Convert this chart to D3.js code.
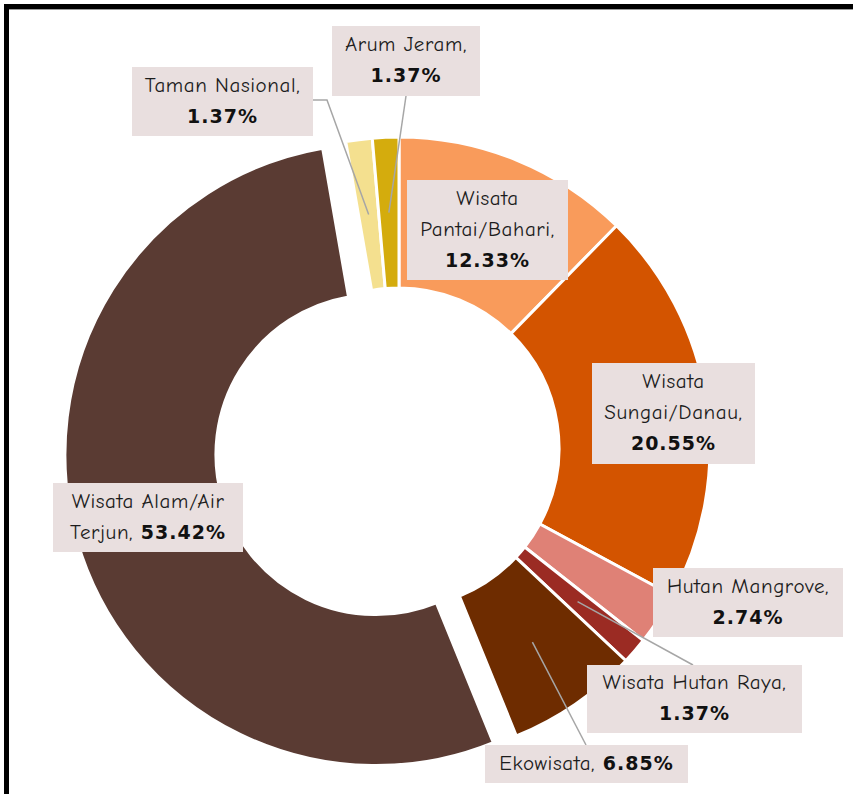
<!DOCTYPE html>
<html>
<head>
<meta charset="utf-8">
<script src="https://cdn.jsdelivr.net/npm/d3@7"></script>
<style>
  html, body { margin: 0; padding: 0; background: #fff; }
  svg { display: block; }
  .lbl { font-family: "Comic Sans MS", "Comic Neue", "DejaVu Sans", sans-serif; font-size: 21px; letter-spacing: 0.6px; fill: #1c1c1c; }
  .pct { font-family: "DejaVu Sans", "Liberation Sans", sans-serif; font-weight: bold; font-size: 19px; letter-spacing: 1px; fill: #111; }
</style>
</head>
<body>
<div id="chart"></div>
<script>
// data
const categories = ['Wisata Pantai/Bahari', 'Wisata Sungai/Danau', 'Hutan Mangrove', 'Wisata Hutan Raya',
  'Ekowisata', 'Wisata Alam/Air Terjun', 'Taman Nasional', 'Arum Jeram']
const shares = [12.33, 20.55, 2.74, 1.37, 6.85, 53.42, 1.37, 1.37]
// label text, {p} = bold percentage
const labelText = [
  ['Wisata', 'Pantai/Bahari,', '{p}'],
  ['Wisata', 'Sungai/Danau,', '{p}'],
  ['Hutan Mangrove,', '{p}'],
  ['Wisata Hutan Raya,', '{p}'],
  ['Ekowisata, {p}'],
  ['Wisata Alam/Air', 'Terjun, {p}'],
  ['Taman Nasional,', '{p}'],
  ['Arum Jeram,', '{p}']
]
const colors = ['#F99B5B', '#D35400', '#DF8176', '#9B2B23', '#6E2C00', '#5A3B33', '#F4E08F', '#D4AC0D']
const exploded = [0, 0, 0, 0, 0, 24, 0, 0]

// label boxes [x, y, w, h] and leader ends
const boxes = [
  [407, 180, 161, 100],
  [592, 363, 163, 101],
  [653, 568, 190, 69],
  [587, 665, 215, 68],
  [485, 745, 203, 38],
  [53, 483, 190, 69],
  [132, 67, 181, 69],
  [332, 26, 148, 70]
]
const leaders = [null, null, null, [[693, 665]], [[586, 745]], null, [[327, 100], [313, 100]], [[406, 96]]]

const width = 853
const height = 794
const cx = 399
const cy = 448
const inner = 160
const outer = 311

const svg = d3.select('#chart').append('svg')
  .attr('width', width)
  .attr('height', height)

// frame
svg.append('path')
  .attr('d', 'M6.5,' + height + 'V6.5H' + width)
  .attr('fill', 'none')
  .attr('stroke', '#000')
  .attr('stroke-width', 5)
svg.append('line')
  .attr('x1', 9).attr('x2', width).attr('y1', 9.5).attr('y2', 9.5)
  .attr('stroke', '#999').attr('stroke-width', 1)

const pie = d3.pie().sort(null).value(d => d.v)
const arcs = pie(categories.map((c, i) => ({ c: c, v: shares[i], i: i })))

const arc = d3.arc().innerRadius(inner).outerRadius(outer)

const g = svg.append('g').attr('transform', 'translate(' + cx + ',' + cy + ')')

g.selectAll('path.slice')
  .data(arcs)
  .enter().append('path')
  .attr('class', 'slice')
  .attr('d', arc)
  .attr('fill', d => colors[d.data.i])
  .attr('stroke', '#fff')
  .attr('stroke-width', 3)
  .attr('stroke-linejoin', 'miter')
  .attr('transform', d => {
    const a = (d.startAngle + d.endAngle) / 2
    const o = exploded[d.data.i]
    return 'translate(' + Math.sin(a) * o + ',' + (-Math.cos(a) * o) + ')'
  })

// leader lines
arcs.forEach(d => {
  const pts = leaders[d.data.i]
  if (!pts) return
  const c = arc.centroid(d)
  const line = [[c[0] + cx, c[1] + cy]].concat(pts)
  svg.append('path')
    .attr('d', d3.line()(line))
    .attr('fill', 'none')
    .attr('stroke', '#A6A6A6')
    .attr('stroke-width', 1.5)
})

// label boxes
arcs.forEach(d => {
  const i = d.data.i
  const b = boxes[i]
  svg.append('rect')
    .attr('x', b[0]).attr('y', b[1])
    .attr('width', b[2]).attr('height', b[3])
    .attr('fill', '#E9DFDF')
  const lines = labelText[i]
  const gap = 31
  const y0 = b[1] + b[3] / 2 - (lines.length - 1) * gap / 2
  lines.forEach((ln, k) => {
    const t = svg.append('text')
      .attr('x', b[0] + b[2] / 2)
      .attr('y', y0 + k * gap)
      .attr('dy', '0.35em')
      .attr('text-anchor', 'middle')
    const parts = ln.split('{p}')
    if (parts[0]) t.append('tspan').attr('class', 'lbl').text(parts[0])
    if (parts.length > 1) {
      t.append('tspan').attr('class', 'pct').text(d3.format('.2f')(shares[i]) + '%')
    }
  })
})
</script>
</body>
</html>
